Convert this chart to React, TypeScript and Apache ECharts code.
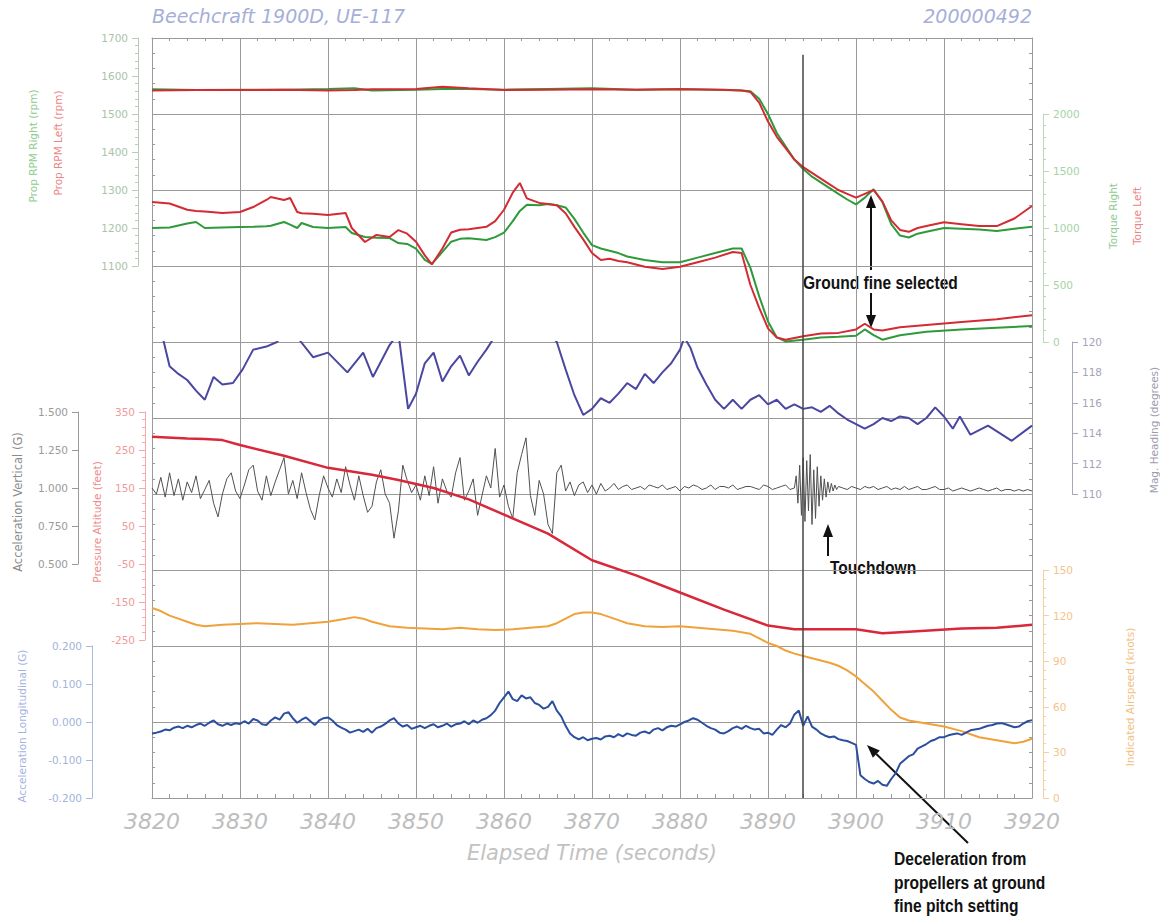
import React, { useEffect, useRef } from "react";
import * as echarts from "echarts";

// ---------- data ----------
const X_MIN = 3820;
const X_MAX = 3920;

// Prop RPM (left axis, top panel)
const RPM_T = [3820, 3825, 3830, 3835, 3840, 3843, 3845, 3850, 3853, 3856, 3860, 3865, 3870, 3875, 3880, 3885, 3887, 3888, 3889, 3890, 3891, 3892, 3893, 3894, 3895, 3896, 3897, 3898, 3899, 3900, 3901, 3902, 3903, 3904, 3905, 3906, 3907, 3908, 3910, 3912, 3914, 3916, 3918, 3920];
const RPM_LEFT = [1562, 1563, 1563, 1564, 1562, 1563, 1565, 1566, 1572, 1568, 1563, 1564, 1565, 1564, 1565, 1564, 1562, 1558, 1530, 1480, 1440, 1410, 1380, 1360, 1345, 1330, 1315, 1300, 1290, 1280, 1290, 1300, 1270, 1220, 1195, 1190, 1200, 1205, 1215, 1210, 1205, 1205, 1225, 1258];
const RPM_RIGHT = [1565, 1563, 1564, 1564, 1566, 1568, 1562, 1564, 1566, 1566, 1564, 1566, 1568, 1564, 1566, 1563, 1562, 1560, 1540, 1500, 1450, 1415, 1380, 1355, 1335, 1320, 1305, 1290, 1275, 1262, 1280, 1302, 1268, 1210, 1180, 1175, 1185, 1190, 1200, 1198, 1196, 1192, 1198, 1203];

// Torque (right axis, top panel)
const TQ_T = [3820, 3822, 3824, 3825, 3826, 3828, 3830, 3831.5, 3833, 3833.5, 3835, 3835.7, 3836.5, 3837, 3838.3, 3840, 3842, 3842.7, 3844.2, 3845.5, 3847, 3848, 3849, 3850, 3851, 3851.8, 3853, 3854, 3855, 3856, 3858, 3859, 3860, 3861, 3861.8, 3862.6, 3864, 3865, 3866, 3867, 3868, 3869, 3870, 3871, 3872, 3873, 3874, 3876, 3878, 3880, 3882, 3884, 3886, 3887, 3888, 3889, 3890, 3891, 3892, 3894, 3896, 3898, 3900, 3901, 3902, 3903, 3905, 3908, 3912, 3916, 3920];
const TQ_LEFT = [1228, 1215, 1160, 1150, 1145, 1132, 1140, 1184, 1246, 1272, 1246, 1263, 1140, 1130, 1125, 1114, 1132, 1000, 877, 939, 921, 982, 950, 880, 760, 680, 820, 960, 985, 990, 1010, 1060, 1160, 1310, 1395, 1260, 1220, 1210, 1200, 1130, 1010, 900, 780, 720, 730, 710, 700, 660, 640, 660, 700, 740, 790, 780, 500, 300, 120, 40, 20, 50, 75, 80, 110, 160, 110, 100, 130, 150, 175, 200, 235];
const TQ_RIGHT = [1000, 1005, 1040, 1053, 1000, 1005, 1009, 1010, 1015, 1020, 1053, 1030, 1000, 1044, 1009, 1000, 1009, 956, 921, 915, 912, 868, 860, 820, 720, 685, 790, 880, 905, 910, 895, 920, 960, 1060, 1150, 1205, 1200, 1210, 1200, 1180, 1080, 960, 850, 820, 800, 780, 750, 720, 700, 700, 740, 780, 820, 820, 650, 400, 180, 40, 5, 20, 40, 45, 55, 110, 60, 20, 60, 90, 110, 125, 140];

// Magnetic heading (degrees)
const HDG_T = [3820, 3821.3, 3822, 3823, 3824, 3825, 3826, 3827, 3828, 3829.2, 3830.3, 3831.5, 3833, 3834.2, 3835.5, 3836.8, 3838.3, 3840, 3842.2, 3844, 3845.1, 3847, 3848, 3849.1, 3850, 3851, 3852, 3853, 3854, 3855, 3856, 3857, 3858, 3859, 3860.5, 3862.5, 3864.5, 3866, 3867, 3868, 3869, 3870, 3871, 3872, 3873, 3874, 3875, 3876, 3877, 3878, 3879, 3880, 3880.5, 3881.2, 3882, 3883, 3884, 3885, 3886, 3887, 3888, 3889, 3890, 3891, 3892, 3893, 3894, 3895, 3896, 3897, 3898, 3899, 3900, 3901, 3902, 3903, 3904, 3905, 3906, 3907, 3908, 3909, 3910, 3911, 3911.8, 3913, 3915, 3917.7, 3920];
const HDG = [121.0, 120.1, 118.4, 117.9, 117.5, 116.8, 116.2, 117.7, 117.2, 117.3, 118.2, 119.5, 119.7, 120.0, 121.0, 120.1, 119.0, 119.3, 118.0, 119.3, 117.7, 119.8, 120.6, 115.6, 116.6, 118.6, 119.3, 117.4, 118.4, 119.1, 117.8, 118.7, 119.5, 120.4, 121.5, 122.0, 121.0, 120.0, 118.2, 116.5, 115.2, 115.6, 116.3, 116.0, 116.6, 117.3, 116.9, 117.9, 117.3, 118.0, 118.6, 119.5, 120.3, 119.6, 118.3, 117.2, 116.2, 115.6, 116.2, 115.6, 116.2, 116.5, 115.9, 116.2, 115.6, 115.9, 115.6, 115.7, 115.4, 115.8, 115.3, 114.9, 114.6, 114.3, 114.6, 115.0, 114.8, 115.1, 115.0, 114.6, 115.0, 115.7, 115.1, 114.3, 115.1, 113.9, 114.5, 113.5, 114.5];

// Pressure altitude (feet)
const ALT_T = [3820, 3824, 3826, 3828, 3830, 3835, 3840, 3845, 3848, 3852, 3856, 3860, 3865, 3870, 3875, 3880, 3885, 3890, 3893, 3900, 3903, 3906, 3912, 3916, 3920];
const ALT = [285, 280, 279, 276, 263, 235, 203, 185, 171, 150, 120, 80, 30, -40, -80, -125, -170, -212, -222, -222, -232, -228, -220, -218, -210];

// Indicated airspeed (knots)
const IAS_T = [3820, 3821, 3822, 3823, 3824, 3825, 3826, 3827, 3828, 3830, 3832, 3834, 3836, 3838, 3840, 3842, 3843, 3844, 3845, 3847, 3849, 3851, 3853, 3855, 3857, 3859, 3861, 3863, 3865, 3866, 3867, 3868, 3869, 3870, 3871, 3872, 3873, 3874, 3876, 3878, 3880, 3882, 3884, 3886, 3888, 3889, 3890, 3891, 3892, 3893, 3895, 3896, 3897, 3898, 3899, 3900, 3901, 3902, 3903, 3904, 3905, 3906, 3907, 3908, 3910, 3912, 3914, 3916, 3918, 3919, 3920];
const IAS = [125, 123, 120, 118, 116, 114, 113, 113.5, 114, 114.5, 115, 114.5, 114, 115, 116, 118, 119, 118, 116, 113, 112, 111.5, 111, 112, 111, 110.5, 111, 112, 113, 115, 118, 121, 122, 122, 121, 119, 117, 115, 113, 112.5, 113, 112, 111, 110, 108, 105, 102, 100, 97, 95, 92, 90.5, 89, 87, 84, 80, 75, 70, 64, 58, 53, 51, 50, 49, 47, 44, 40, 38, 36, 37, 39];

// Vertical acceleration (G): 3820.0-3893.0 every 0.5 s, burst 3893.2-3898.0 every 0.2 s, 3898.5-3920 every 0.5 s
const VACC_A = [
  1.00, 0.96, 1.07, 0.94, 1.10, 0.95, 1.06, 0.92, 1.04, 0.97,
  1.08, 0.93, 0.99, 1.05, 0.90, 0.81, 0.96, 1.06, 1.10, 0.98,
  0.93, 1.02, 1.12, 1.15, 0.98, 0.92, 1.08, 0.95, 1.04, 1.12,
  1.20, 0.96, 1.05, 0.93, 1.10, 0.97, 0.86, 0.79, 0.95, 1.08,
  1.00, 0.94, 1.06, 0.97, 1.14, 1.02, 0.92, 1.08, 0.95, 0.84,
  0.88, 1.04, 1.12, 0.96, 0.90, 0.67, 0.85, 1.15, 1.05, 0.97,
  1.02, 0.92, 1.08, 0.95, 1.14, 0.90, 1.06, 0.98, 0.94, 1.10,
  1.20, 0.92, 0.98, 1.06, 0.82, 0.95, 1.08, 1.00, 1.26, 0.94,
  1.02, 0.88, 0.80, 1.10, 1.22, 1.33, 0.95, 0.82, 1.05, 0.96,
  0.76, 0.70, 1.10, 1.15, 0.98, 1.04, 0.95, 1.02, 1.04, 0.97,
  1.02, 0.96, 1.03, 0.98, 1.00, 1.03, 0.99, 1.01, 1.02, 0.99,
  1.00, 1.01, 0.99, 1.02, 1.01, 1.00, 1.02, 0.99, 1.00, 1.01,
  0.98, 1.01, 1.00, 1.02, 1.01, 0.99, 1.00, 1.02, 0.99, 1.01,
  1.01, 1.00, 1.02, 0.99, 1.00, 1.01, 1.01, 1.00, 0.99, 1.02,
  1.01, 0.99, 1.00, 1.01, 1.02, 0.99, 1.00
];
const VACC_B = [1.08, 0.90, 1.15, 0.82, 1.20, 0.78, 1.18, 0.85, 1.22, 0.76, 1.12, 0.80, 1.14, 0.88, 1.08, 0.92, 1.06, 0.94, 1.04, 0.97, 1.03, 0.98, 1.02, 0.99, 1.01];
const VACC_C = [
  1.00, 0.99, 1.01, 1.00, 0.99, 1.01, 1.00, 1.01, 0.99, 1.00,
  1.01, 0.99, 1.00, 0.99, 1.01, 0.99, 1.00, 1.01, 0.99, 0.99,
  1.00, 1.01, 0.99, 0.99, 1.00, 0.98, 0.99, 1.00, 0.99, 0.98,
  0.99, 1.00, 0.99, 0.98, 0.99, 1.00, 0.98, 0.99, 0.99, 0.98,
  0.99, 0.98, 0.99, 0.98
];

// Longitudinal acceleration (G): 3820-3920 every 0.5 s
const LACC = [
  -0.030, -0.028, -0.025, -0.020, -0.022, -0.015, -0.012, -0.016, -0.010, -0.014,
  -0.008, -0.004, -0.010, -0.002, 0.004, -0.006, -0.010, -0.004, -0.008, -0.003,
  -0.005, 0.002, -0.004, 0.008, 0.004, -0.006, -0.008, 0.004, 0.012, 0.006,
  0.022, 0.026, 0.010, -0.002, 0.006, 0.012, 0.002, -0.008, 0.004, 0.010,
  0.012, 0.004, -0.008, -0.015, -0.020, -0.028, -0.024, -0.020, -0.026, -0.018,
  -0.028, -0.016, -0.012, -0.005, 0.004, 0.010, -0.004, -0.012, -0.008, -0.018,
  -0.014, -0.010, -0.016, -0.010, -0.006, -0.014, -0.010, -0.004, -0.012, -0.006,
  -0.004, 0.002, -0.006, 0.004, -0.002, 0.006, 0.010, 0.018, 0.030, 0.050,
  0.065, 0.080, 0.060, 0.055, 0.070, 0.062, 0.065, 0.050, 0.045, 0.035,
  0.040, 0.055, 0.030, 0.015, -0.010, -0.030, -0.040, -0.046, -0.040, -0.048,
  -0.044, -0.042, -0.046, -0.038, -0.036, -0.040, -0.032, -0.038, -0.030, -0.034,
  -0.036, -0.028, -0.025, -0.030, -0.020, -0.016, -0.022, -0.014, -0.010, -0.012,
  -0.006, 0.000, 0.004, 0.010, 0.006, -0.002, -0.010, -0.016, -0.020, -0.028,
  -0.030, -0.024, -0.016, -0.012, -0.018, -0.010, -0.016, -0.020, -0.018, -0.030,
  -0.028, -0.034, -0.020, -0.008, -0.014, -0.004, 0.020, 0.030, -0.010, 0.015,
  -0.012, -0.020, -0.030, -0.036, -0.040, -0.038, -0.045, -0.048, -0.050, -0.055,
  -0.060, -0.140, -0.150, -0.158, -0.162, -0.155, -0.165, -0.168, -0.150, -0.135,
  -0.110, -0.100, -0.090, -0.085, -0.070, -0.064, -0.058, -0.050, -0.046, -0.040,
  -0.040, -0.035, -0.032, -0.030, -0.034, -0.028, -0.022, -0.020, -0.018, -0.014,
  -0.010, -0.008, -0.004, -0.003, -0.006, -0.010, -0.014, -0.012, -0.004, 0.002,
  0.005
];

const TOUCHDOWN_T = 3894;

// ---------- helpers ----------
const pairs = (ts: number[], vs: number[], shift = 0) => ts.map((t, i) => [t, vs[i] + shift]);
const seg = (start: number, step: number, vs: number[]) =>
  vs.map((v, i) => [Math.round((start + i * step) * 100) / 100, v]);

const THIN = "'DejaVu Sans', sans-serif";
const LEFT = 152;
const WIDTH = 880;

const C_RED = "#d42a34";
const C_GREEN = "#2f9a3a";
const C_HDG = "#4a47a0";
const C_ALT = "#d8283a";
const C_VACC = "#505050";
const C_IAS = "#f0a23a";
const C_LACC = "#2b4f9e";

const plain = (v: number) => String(v);

function yAx(grid: number, pos: string, offset: number, min: number, max: number, interval: number,
  labelColor: string, lineColor: string, fmt: any, minor: boolean) {
  return {
    gridIndex: grid, type: "value", position: pos, offset, min, max, interval,
    axisLine: { show: true, onZero: false, lineStyle: { color: lineColor, width: 1 } },
    axisTick: { show: true, length: 6, lineStyle: { color: lineColor } },
    minorTick: { show: minor, splitNumber: 5, length: 3, lineStyle: { color: lineColor } },
    splitLine: { show: false },
    minorSplitLine: { show: false },
    axisLabel: { color: labelColor, fontFamily: THIN, fontSize: 10.5, margin: 10, formatter: fmt, showMinLabel: true, showMaxLabel: true },
  };
}

function hiddenX(grid: number) {
  return { gridIndex: grid, type: "value", min: X_MIN, max: X_MAX, show: false };
}

function vText(x: number, y: number, text: string, fill: string, size = 10.5) {
  return {
    type: "text", x, y, rotation: Math.PI / 2, silent: true,
    style: { text, fill, fontFamily: THIN, fontSize: size, align: "center", verticalAlign: "middle" },
  };
}

function note(x: number, y: number, text: string) {
  return {
    type: "text", x, y, scaleX: 0.82, silent: true,
    style: { text, fill: "#111", fontFamily: "'Liberation Sans', Arial, sans-serif", fontWeight: "bold", fontSize: 19, align: "left", verticalAlign: "middle" },
  };
}

function arrow(x1: number, y1: number, x2: number, y2: number) {
  const dx = x2 - x1, dy = y2 - y1;
  const len = Math.sqrt(dx * dx + dy * dy);
  const ux = dx / len, uy = dy / len;
  const bx = x2 - ux * 13, by = y2 - uy * 13;
  const px = -uy * 5, py = ux * 5;
  return [
    { type: "line", silent: true, shape: { x1, y1, x2: bx, y2: by }, style: { stroke: "#111", lineWidth: 2 } },
    { type: "polygon", silent: true, shape: { points: [[x2, y2], [bx + px, by + py], [bx - px, by - py]] }, style: { fill: "#111" } },
  ];
}

function lineSeries(name: string, xi: number, yi: number, data: any[], color: string, width = 2) {
  return {
    name, type: "line", xAxisIndex: xi, yAxisIndex: yi, data, showSymbol: false, symbol: "none",
    lineStyle: { color, width }, itemStyle: { color }, clip: true, z: 3, silent: true,
  };
}

export default function App() {
  const ref = useRef<HTMLDivElement>(null);

  useEffect(() => {
    if (!ref.current) return;
    const chart = echarts.init(ref.current, undefined, { renderer: "svg" });

    const grid = (top: number, height: number) => ({ left: LEFT, top, width: WIDTH, height, outerBoundsMode: "none" });

    const fmt3 = (v: number) => v.toFixed(3);
    const frameColor = "#9a9a9a";

    const option: any = {
      animation: false,
      backgroundColor: "#ffffff",
      grid: [
        grid(38, 760),   // 0 frame
        grid(38, 228),   // 1 rpm 1100-1700
        grid(114, 228),  // 2 torque 0-2000
        grid(342, 152),  // 3 heading 110-120
        grid(412, 228),  // 4 altitude -250..350
        grid(412, 152),  // 5 vertical accel 0.5-1.5
        grid(570, 228),  // 6 airspeed 0-150
        grid(646, 152),  // 7 longitudinal accel -0.2..0.2
      ],
      xAxis: [
        {
          gridIndex: 0, type: "value", position: "bottom", min: X_MIN, max: X_MAX, interval: 10,
          axisLine: { show: true, onZero: false, lineStyle: { color: frameColor } },
          axisTick: { show: true, inside: true, length: 6, lineStyle: { color: frameColor } },
          minorTick: { show: true, splitNumber: 5, length: 4, lineStyle: { color: frameColor } },
          splitLine: { show: true, lineStyle: { color: frameColor, width: 1 } },
          axisLabel: { color: "#bdbdbd", fontFamily: THIN, fontWeight: 200, fontStyle: "italic", fontSize: 22, margin: 12, formatter: plain, showMinLabel: true, showMaxLabel: true },
          name: "Elapsed Time (seconds)", nameLocation: "middle", nameGap: 44,
          nameTextStyle: { color: "#c2c2c2", fontFamily: THIN, fontWeight: 200, fontStyle: "italic", fontSize: 21 },
        },
        {
          gridIndex: 0, type: "value", position: "top", min: X_MIN, max: X_MAX, interval: 10,
          axisLine: { show: true, onZero: false, lineStyle: { color: frameColor } },
          axisTick: { show: true, inside: true, length: 5, lineStyle: { color: frameColor } },
          minorTick: { show: true, splitNumber: 5, length: 3, lineStyle: { color: frameColor } },
          splitLine: { show: false }, axisLabel: { show: false },
        },
        hiddenX(1), hiddenX(2), hiddenX(3), hiddenX(4), hiddenX(5), hiddenX(6), hiddenX(7),
      ],
      yAxis: [
        {
          gridIndex: 0, type: "value", position: "left", min: 0, max: 10, interval: 1,
          axisLine: { show: true, onZero: false, lineStyle: { color: frameColor } },
          axisTick: { show: true, inside: true, length: 5, lineStyle: { color: frameColor } },
          minorTick: { show: true, splitNumber: 5, length: 3, lineStyle: { color: frameColor } },
          splitLine: { show: true, lineStyle: { color: frameColor, width: 1 } },
          axisLabel: { show: false },
        },
        {
          gridIndex: 0, type: "value", position: "right", min: 0, max: 10, interval: 1,
          axisLine: { show: true, onZero: false, lineStyle: { color: frameColor } },
          axisTick: { show: true, inside: true, length: 5, lineStyle: { color: frameColor } },
          minorTick: { show: true, splitNumber: 5, length: 3, lineStyle: { color: frameColor } },
          splitLine: { show: false }, axisLabel: { show: false },
        },
        yAx(1, "left", 14, 1100, 1700, 100, "#a9c4a9", "#b9ccb9", plain, true),
        yAx(2, "right", 11, 0, 2000, 500, "#a6d2a6", "#b9d9b9", plain, true),
        yAx(3, "right", 40, 110, 120, 2, "#a4a4b8", "#a8a8b8", plain, false),
        yAx(4, "left", 7, 0, 600, 100, "#f09a9a", "#f2aaaa", (v: number) => String(v - 250), true),
        yAx(5, "left", 74, 0.5, 1.5, 0.25, "#9a9a9a", "#9a9a9a", fmt3, false),
        yAx(6, "right", 11, 0, 150, 30, "#f3c48a", "#f5cf9c", plain, true),
        yAx(7, "left", 60, -0.2, 0.2, 0.1, "#a3b4da", "#a9b9dc", fmt3, false),
      ],
      series: [
        {
          name: "cursor", type: "line", xAxisIndex: 0, yAxisIndex: 0, data: [], silent: true,
          markLine: {
            silent: true, symbol: ["none", "none"], label: { show: false },
            lineStyle: { color: "#444", width: 1.5, type: "solid" },
            data: [[{ coord: [TOUCHDOWN_T, 9.78] }, { coord: [TOUCHDOWN_T, 0] }]],
          },
        },
        lineSeries("Prop RPM Right", 2, 2, pairs(RPM_T, RPM_RIGHT), C_GREEN),
        lineSeries("Prop RPM Left", 2, 2, pairs(RPM_T, RPM_LEFT), C_RED),
        lineSeries("Torque Right", 3, 3, pairs(TQ_T, TQ_RIGHT), C_GREEN),
        lineSeries("Torque Left", 3, 3, pairs(TQ_T, TQ_LEFT), C_RED),
        lineSeries("Mag. Heading", 4, 4, pairs(HDG_T, HDG), C_HDG),
        lineSeries("Acceleration Vertical", 6, 6,
          [...seg(3820, 0.5, VACC_A), ...seg(3893.2, 0.2, VACC_B), ...seg(3898.5, 0.5, VACC_C)], C_VACC, 1),
        lineSeries("Pressure Altitude", 5, 5, pairs(ALT_T, ALT, 250), C_ALT, 2.5),
        lineSeries("Indicated Airspeed", 7, 7, pairs(IAS_T, IAS), C_IAS),
        lineSeries("Acceleration Longitudinal", 8, 8, seg(3820, 0.5, LACC), C_LACC),
      ],
      graphic: [
        {
          type: "text", x: 152, y: 16, silent: true,
          style: { text: "Beechcraft 1900D, UE-117", fill: "#a6aed8", fontFamily: THIN, fontWeight: 200, fontStyle: "italic", fontSize: 19, align: "left", verticalAlign: "middle" },
        },
        {
          type: "text", x: 1032, y: 16, silent: true,
          style: { text: "200000492", fill: "#a6aed8", fontFamily: THIN, fontWeight: 200, fontStyle: "italic", fontSize: 19, align: "right", verticalAlign: "middle" },
        },
        vText(33, 146, "Prop RPM Right (rpm)", "#8fcc8f"),
        vText(58, 143, "Prop RPM Left (rpm)", "#ec8585"),
        vText(1113, 216, "Torque Right", "#8fcc8f"),
        vText(1137, 216, "Torque Left", "#ec8585"),
        vText(1154, 430, "Mag. Heading (degrees)", "#9c9cb0"),
        vText(18, 502, "Acceleration Vertical (G)", "#8a8a8a", 11.5),
        vText(97, 522, "Pressure Altitude (feet)", "#ee8c8c"),
        vText(1130, 697, "Indicated Airspeed (knots)", "#f2c080"),
        vText(22, 726, "Acceleration Longitudinal (G)", "#a3b4e0"),
        note(803, 282, "Ground fine selected"),
        note(830, 567, "Touchdown"),
        note(894, 858, "Deceleration from"),
        note(894, 882, "propellers at ground"),
        note(894, 905, "fine pitch setting"),
        ...arrow(871, 270, 871, 195),
        ...arrow(871, 293, 871, 328),
        ...arrow(828, 556, 828, 524),
        ...arrow(968, 843, 867, 745),
      ],
    };

    chart.setOption(option);
    return () => chart.dispose();
  }, []);

  return (
    <div
      ref={ref}
      style={{ position: "absolute", left: 0, top: 0, width: 1160, height: 918, background: "#fff" }}
    />
  );
}
